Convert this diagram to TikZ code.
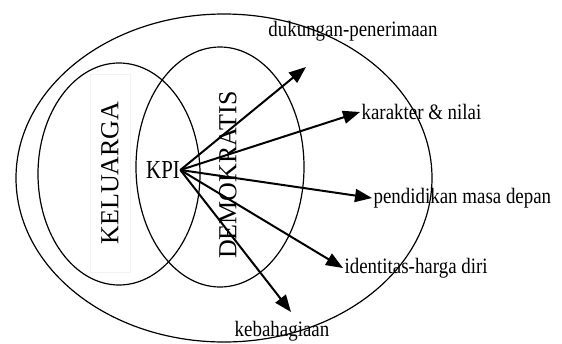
\documentclass[tikz,border=0pt]{standalone}
\usepackage{fontspec}
\setmainfont{Liberation Serif}
\newfontfamily\sempit[FakeStretch=0.86]{Liberation Serif}
\newfontfamily\sempitkpi[FakeStretch=0.8]{Liberation Serif}
\usepackage{tikz}
\usetikzlibrary{positioning, arrows.meta}

\begin{document}
\begin{tikzpicture}[x=1pt, y=-1pt, line width=1.2pt,
        lbl/.style={font=\sempit\fontsize{22}{26}\selectfont, inner sep=1pt},
        arr/.style={-{Triangle[length=17pt, width=13pt]}, line width=2pt},
        judul/.style={font=\fontsize{26}{30}\selectfont, rotate=90}]
      \useasboundingbox (0,0) rectangle (562,343);
      % Elips luar dan dua elips
      \draw (224,178) ellipse [x radius=208pt, y radius=164pt];
      \draw (119,174) ellipse [x radius=81pt, y radius=111pt];
      \draw (220,167) ellipse [x radius=84pt, y radius=120pt];
      % Judul elips
      \node[judul, draw=black!5, line width=0.5pt, minimum width=198pt, minimum height=40pt] (kel) at (110,173) {KELUARGA};
      \node[judul] (dem) at (228,175) {DEMOKRATIS};
      \node[font=\sempitkpi\fontsize{26}{30}\selectfont, inner sep=0pt] (kpi) at (163,170) {KPI};
      % Label
      \node[lbl] (duk) at (353,31) {dukungan-penerimaan};
      \node[lbl, anchor=west] (kar) at (360,112) {karakter \& nilai};
      \node[lbl, anchor=west] (pen) at (372,198) {pendidikan masa depan};
      \node[lbl, anchor=west] (ide) at (343,268) {identitas-harga diri};
      \node[lbl] (keb) at (282,331) {kebahagiaan};
      \coordinate (dukT) at (306,67);
      \coordinate (kebT) at (291,312);
      % Panah
      \draw[arr] (kpi.east) -- (dukT);
      \draw[arr] (kpi.east) -- (kar.west);
      \draw[arr] (kpi.east) -- (pen.west);
      \draw[arr] (kpi.east) -- (ide.west);
      \draw[arr] (kpi.east) -- (kebT);
    \end{tikzpicture}
\end{document}
